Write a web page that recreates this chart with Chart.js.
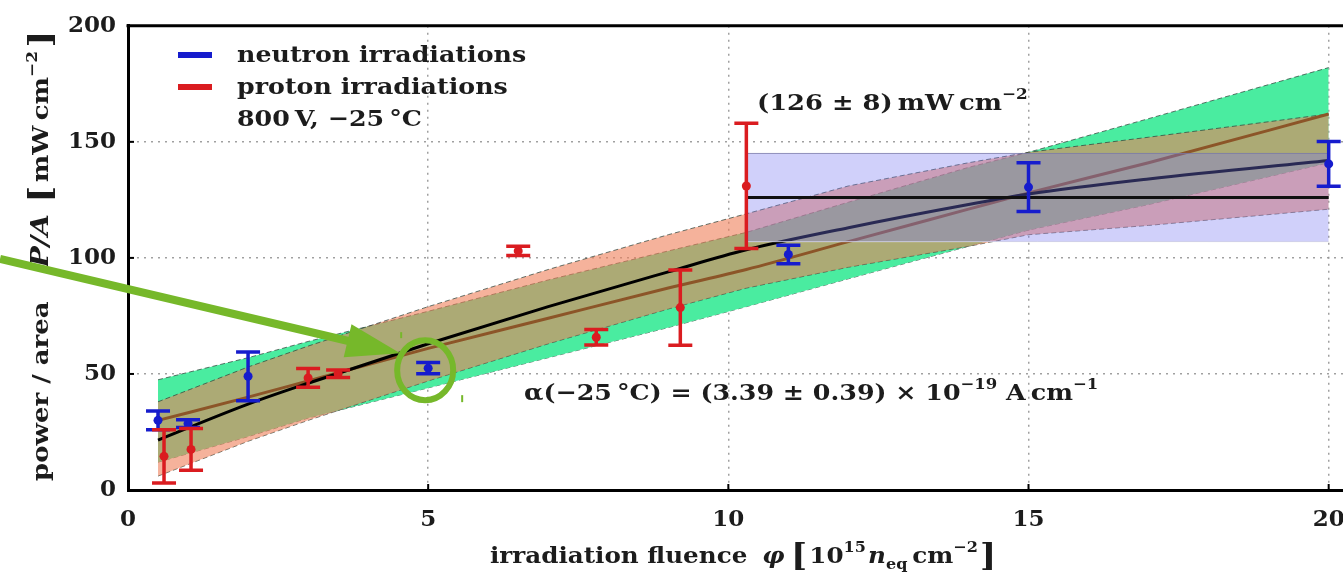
<!DOCTYPE html>
<html><head><meta charset="utf-8">
<script src="https://cdn.jsdelivr.net/npm/chart.js@4.4.0/dist/chart.umd.min.js"></script>
<style>html,body{margin:0;padding:0;background:#fff;overflow:hidden;width:1343px;height:576px}</style>
</head><body>
<canvas id="c" width="1368" height="576"></canvas>
<script>
// ---------- data ----------
const xTicks = [0, 5, 10, 15, 20];
const yTicks = [0, 50, 100, 150, 200];

const neutronX   = [0.5, 1.0, 2.0, 5.0, 11.0, 15.0, 20.0];
const neutronY   = [30, 28.6, 49, 52.5, 101.5, 130.5, 140.5];
const neutronErr = [4, 1.7, 10.5, 2.4, 4, 10.5, 9.6];

const protonX   = [0.6, 1.05, 3.0, 3.5, 6.5, 7.8, 9.2, 10.3];
const protonY   = [14.5, 17.5, 48.3, 50.1, 103, 65.8, 78.6, 131];
const protonErr = [11.5, 9, 4, 1.6, 2, 3.3, 16.2, 27];

// fit curves and uncertainty bands
const fitX        = [0.5, 2, 3, 5, 7, 9, 10.3, 12, 14, 15, 17, 20];
const alphaFit    = [30, 40, 47, 61, 74, 87, 95, 107, 121, 128, 141, 162];
const alphaUpper  = [47.5, 57, 64, 77, 90.5, 103, 111, 124, 139, 145.5, 160, 182];
const alphaLower  = [12, 23, 31, 44, 57, 70, 79, 91, 105, 112, 123, 141];
const neutronFit  = [21.5, 37, 46, 63, 79, 94, 103.5, 113, 123, 127.5, 134, 142];
const neutronUpper= [38, 53, 62, 79, 95, 110, 119, 131, 141, 145.5, 152, 162];
const neutronLower= [6, 21, 30, 47, 63, 78, 87, 96, 105, 110, 114, 121];

const plateauX     = [10.3, 20];
const plateauMean  = [126, 126];
const plateauUpper = [145, 145];
const plateauLower = [107, 107];

// ---------- styles ----------
const BLUE = 'rgb(22,28,205)';
const RED = 'rgb(218,28,32)';
const GREEN_ARROW = 'rgb(118,184,42)';
const TXT = '#1c1c1c';
const SERIF = "'DejaVu Serif'";
const fB = s => `bold ${s}px ${SERIF}`;
const fI = s => `italic bold ${s}px ${SERIF}`;
const STRETCH = 1.1;

const pts = (xs, ys) => xs.map((x, i) => ({x, y: ys[i]}));
const edge = {borderColor: 'rgba(50,70,60,0.75)', borderWidth: 1, borderDash: [5, 3], pointRadius: 0};

const datasets = [
  Object.assign({data: pts(fitX, alphaUpper), fill: '+1', backgroundColor: 'rgb(74,236,160)', order: 10}, edge),
  Object.assign({data: pts(fitX, alphaLower), fill: false, order: 10}, edge),
  Object.assign({data: pts(fitX, neutronUpper), fill: '+1', backgroundColor: 'rgba(238,127,88,0.6)', order: 9}, edge),
  Object.assign({data: pts(fitX, neutronLower), fill: false, order: 9}, edge),
  {data: pts(fitX, alphaFit), borderColor: 'rgb(140,85,40)', borderWidth: 3, pointRadius: 0, fill: false, cubicInterpolationMode: 'monotone', order: 8},
  {data: pts(fitX, neutronFit), borderColor: '#000', borderWidth: 3, pointRadius: 0, fill: false, cubicInterpolationMode: 'monotone', order: 7},
  {data: pts(plateauX, plateauUpper), fill: '+1', backgroundColor: 'rgba(120,120,240,0.35)', borderColor: 'rgba(120,120,170,0.8)', borderWidth: 1, pointRadius: 0, order: 6},
  {data: pts(plateauX, plateauLower), fill: false, borderColor: 'rgba(235,235,225,0.9)', borderWidth: 1, pointRadius: 0, order: 6},
  {data: pts(plateauX, plateauMean), borderColor: '#111', borderWidth: 3, pointRadius: 0, fill: false, order: 5},
  {data: pts(neutronX, neutronY), showLine: false, pointRadius: 4.5, pointBackgroundColor: BLUE, pointBorderWidth: 0, borderColor: BLUE, order: 2},
  {data: pts(protonX, protonY), showLine: false, pointRadius: 4.5, pointBackgroundColor: RED, pointBorderWidth: 0, borderColor: RED, order: 1}
];

function drawRun(ctx, x0, y0, parts, sx) {
  sx = sx || STRETCH;
  ctx.save();
  ctx.translate(x0, y0);
  ctx.scale(sx, 1);
  let x = 0;
  for (const p of parts) {
    ctx.font = p.f;
    x += (p.dx || 0);
    ctx.fillText(p.t, x, (p.dy || 0));
    x += ctx.measureText(p.t).width;
  }
  ctx.restore();
  return x * sx;
}

const errorBars = {
  id: 'errorBars',
  afterDatasetsDraw(chart) {
    const {ctx, scales: {x, y}} = chart;
    const series = [[neutronX, neutronY, neutronErr, BLUE], [protonX, protonY, protonErr, RED]];
    ctx.save();
    ctx.lineWidth = 3.5;
    for (const [xs, ys, es, col] of series) {
      ctx.strokeStyle = col;
      xs.forEach((xv, i) => {
        const px = x.getPixelForValue(xv);
        const top = y.getPixelForValue(ys[i] + es[i]);
        const bot = y.getPixelForValue(ys[i] - es[i]);
        ctx.beginPath();
        ctx.moveTo(px, top); ctx.lineTo(px, bot);
        ctx.moveTo(px - 12, top); ctx.lineTo(px + 12, top);
        ctx.moveTo(px - 12, bot); ctx.lineTo(px + 12, bot);
        ctx.stroke();
      });
    }
    ctx.restore();
  }
};

const decor = {
  id: 'decor',
  afterDraw(chart) {
    const {ctx, chartArea: ca, scales: {x, y}} = chart;
    ctx.save();
    ctx.strokeStyle = '#000'; ctx.lineWidth = 3;
    ctx.beginPath(); ctx.moveTo(ca.left - 1.5, ca.top); ctx.lineTo(ca.right, ca.top); ctx.stroke();
    ctx.lineWidth = 2;
    xTicks.slice(1).forEach(v => { const p = x.getPixelForValue(v); ctx.beginPath(); ctx.moveTo(p, ca.bottom); ctx.lineTo(p, ca.bottom - 6); ctx.stroke(); });
    yTicks.slice(1, -1).forEach(v => { const p = y.getPixelForValue(v); ctx.beginPath(); ctx.moveTo(ca.left, p); ctx.lineTo(ca.left + 6, p); ctx.stroke(); });

    ctx.fillStyle = TXT;
    ctx.textBaseline = 'alphabetic';
    ctx.textAlign = 'left';
    // legend
    ctx.lineWidth = 6;
    ctx.strokeStyle = BLUE; ctx.beginPath(); ctx.moveTo(178, 55); ctx.lineTo(212, 55); ctx.stroke();
    ctx.strokeStyle = RED; ctx.beginPath(); ctx.moveTo(178, 87); ctx.lineTo(212, 87); ctx.stroke();
    drawRun(ctx, 237, 62, [{t: 'neutron irradiations', f: fB(23)}]);
    drawRun(ctx, 237, 94, [{t: 'proton irradiations', f: fB(23)}]);
    drawRun(ctx, 237, 126, [{t: '800\u2009V, \u221225\u2009\u00B0C', f: fB(23)}]);

    // plateau annotation
    drawRun(ctx, 757, 110, [
      {t: '(126 \u00B1 8)\u2009mW\u2009cm', f: fB(23)},
      {t: '\u22122', f: fB(15), dy: -11}
    ], 1.12);
    // alpha annotation
    drawRun(ctx, 524, 400, [
      {t: '\u03B1(\u221225\u2009\u00B0C) = (3.39 \u00B1 0.39) \u00D7 10', f: fB(23)},
      {t: '\u221219', f: fB(15), dy: -11},
      {t: ' A\u2009cm', f: fB(23)},
      {t: '\u22121', f: fB(15), dy: -11}
    ]);

    // x axis title
    drawRun(ctx, 490, 563, [
      {t: 'irradiation fluence', f: fB(23)},
      {t: '\u03C6', f: fI(23), dx: 14},
      {t: '[', f: `bold 32px ${SERIF}`, dx: 6, dy: 3},
      {t: '10', f: fB(23), dx: 2},
      {t: '15', f: fB(15), dy: -11},
      {t: 'n', f: fI(23), dx: 2},
      {t: 'eq', f: fB(15), dy: 6},
      {t: '\u2009cm', f: fB(23)},
      {t: '\u22122', f: fB(15), dy: -11},
      {t: ']', f: `bold 32px ${SERIF}`, dx: 2, dy: 3}
    ], 1.07);

    // y axis title (rotated)
    ctx.save();
    ctx.translate(48, 481);
    ctx.rotate(-Math.PI / 2);
    drawRun(ctx, 0, 0, [
      {t: 'power / area', f: fB(23)},
      {t: 'P/A', f: fI(25), dx: 30},
      {t: '[', f: `bold 32px ${SERIF}`, dx: 10, dy: 3},
      {t: 'mW\u2009cm', f: fB(23), dx: 3},
      {t: '\u22122', f: fB(15), dy: -11},
      {t: ']', f: `bold 32px ${SERIF}`, dx: 3, dy: 3}
    ], 1.13);
    ctx.restore();

    // highlight arrow and circle
    const cx = x.getPixelForValue(neutronX[3]);
    const cy = y.getPixelForValue(neutronY[3]);
    ctx.strokeStyle = GREEN_ARROW; ctx.fillStyle = GREEN_ARROW;
    ctx.lineWidth = 6;
    ctx.beginPath(); ctx.ellipse(cx - 3, cy + 2, 28, 30, 0, 0, 2 * Math.PI); ctx.stroke();
    ctx.lineWidth = 2;
    ctx.beginPath(); ctx.moveTo(cx + 34, cy + 27); ctx.lineTo(cx + 34, cy + 34); ctx.stroke();
    ctx.beginPath(); ctx.moveTo(cx - 27, cy - 36); ctx.lineTo(cx - 27, cy - 30); ctx.stroke();
    const tipX = cx - 28, tipY = cy - 15, sx = 0, sy = 259;
    const ang = Math.atan2(tipY - sy, tipX - sx);
    const headLen = 54, headHalf = 17;
    const bx = tipX - headLen * Math.cos(ang), by = tipY - headLen * Math.sin(ang);
    ctx.lineWidth = 8;
    ctx.beginPath(); ctx.moveTo(sx, sy); ctx.lineTo(bx + 2 * Math.cos(ang), by + 2 * Math.sin(ang)); ctx.stroke();
    ctx.beginPath();
    ctx.moveTo(tipX, tipY);
    ctx.lineTo(bx + headHalf * Math.sin(ang), by - headHalf * Math.cos(ang));
    ctx.lineTo(bx - headHalf * Math.sin(ang), by + headHalf * Math.cos(ang));
    ctx.closePath(); ctx.fill();
    ctx.restore();
  }
};

const gridColor = (lo, hi) => c => (c.tick && (c.tick.value === lo || c.tick.value === hi)) ? 'rgba(0,0,0,0)' : 'rgba(150,150,150,0.9)';

new Chart(document.getElementById('c'), {
  type: 'line',
  data: {datasets},
  plugins: [errorBars, decor],
  options: {
    responsive: false,
    animation: false,
    events: [],
    layout: {padding: {top: 22, left: 0, right: 0, bottom: 0}},
    plugins: {legend: {display: false}, tooltip: {enabled: false}},
    scales: {
      x: {
        type: 'linear', min: 0, max: 20.58, z: 1,
        afterBuildTicks: s => { s.ticks = xTicks.map(v => ({value: v})); },
        afterFit: s => { s.height = 86; },
        ticks: {font: {family: 'DejaVu Serif', weight: 'bold', size: 23}, color: TXT, padding: 16, maxRotation: 0, autoSkip: false},
        grid: {drawTicks: false, color: gridColor(0, 999), lineWidth: 1.5},
        border: {display: true, color: '#000', width: 3, dash: [2, 5]}
      },
      y: {
        type: 'linear', min: 0, max: 200, z: 1,
        afterBuildTicks: s => { s.ticks = yTicks.map(v => ({value: v})); },
        afterFit: s => { s.width = 128; },
        ticks: {font: {family: 'DejaVu Serif', weight: 'bold', size: 23}, color: TXT, padding: 12, autoSkip: false},
        grid: {drawTicks: false, color: gridColor(0, 200), lineWidth: 1.5},
        border: {display: true, color: '#000', width: 3, dash: [2, 5]}
      }
    }
  }
});
</script>
</body></html>
